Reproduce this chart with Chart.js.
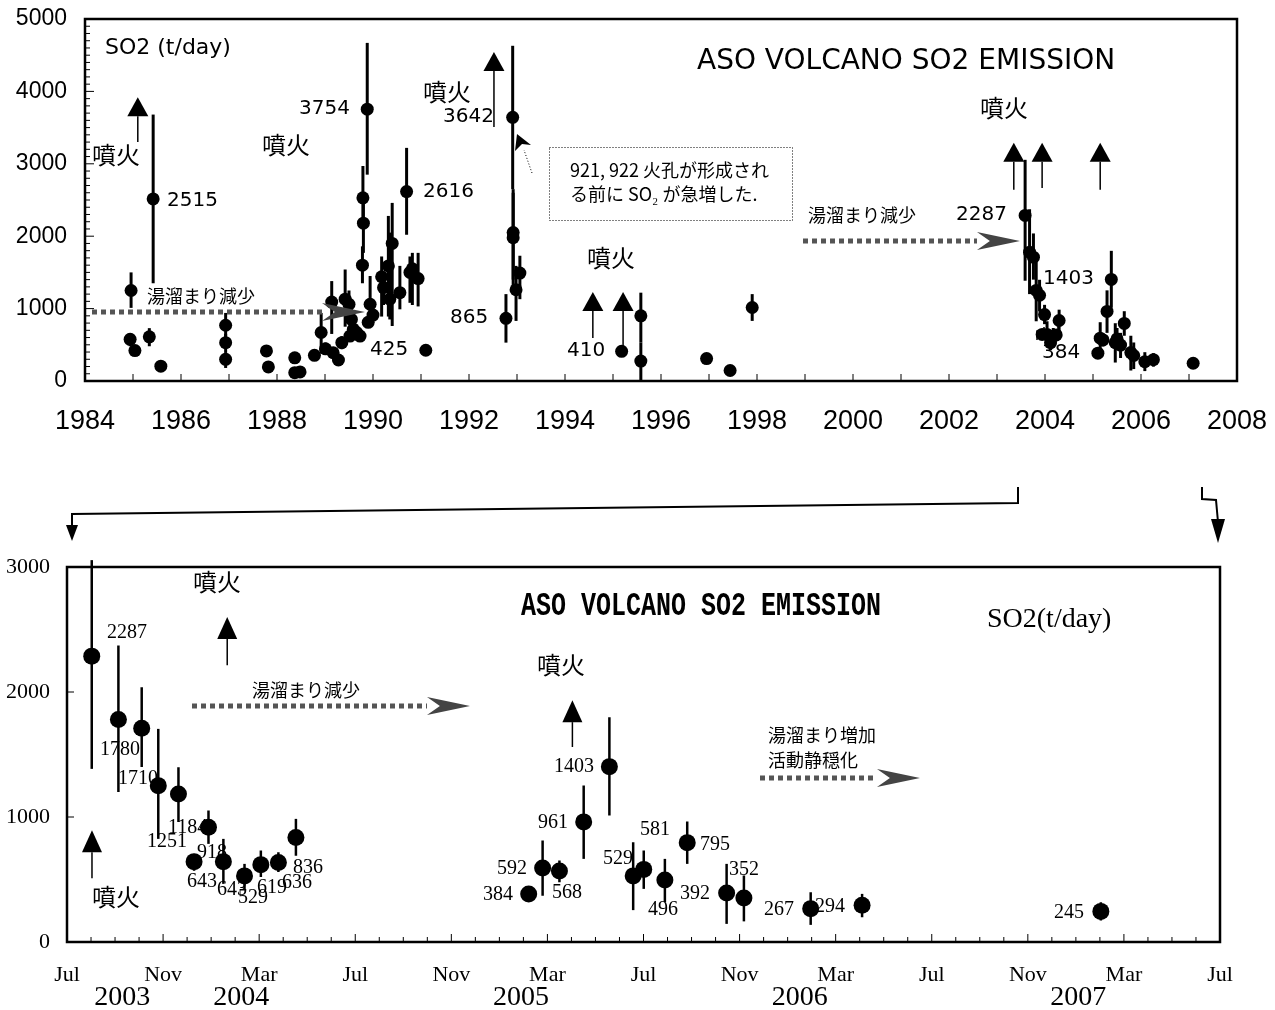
<!DOCTYPE html>
<html>
<head>
<meta charset="utf-8">
<script src="https://cdn.jsdelivr.net/npm/chart.js@4.4.0/dist/chart.umd.min.js"></script>
<style>
  body { margin: 0; background: #fff; }
  #wrap { position: relative; width: 1275px; height: 1010px; }
  #top { position: absolute; left: 0; top: 0; }
  #bot { position: absolute; left: 0; top: 470px; }
</style>
</head>
<body>
<div id="wrap">
  <canvas id="top" width="1275" height="450"></canvas>
  <canvas id="bot" width="1275" height="540"></canvas>
</div>
<script>
// 1984-1998 surveys (decimal year, t/day)
const oldYear = [1984.96, 1984.94, 1985.04, 1985.34, 1985.42, 1985.58, 1986.93, 1986.93, 1986.93, 1987.78,
  1987.82, 1988.37, 1988.37, 1988.48, 1988.78, 1988.92, 1989.01, 1989.14, 1989.17, 1989.28,
  1989.35, 1989.42, 1989.50, 1989.55, 1989.59, 1989.52, 1989.66, 1989.73, 1989.78, 1989.80,
  1989.79, 1989.88, 1989.94, 1990.00, 1989.90, 1990.18, 1990.22, 1990.32, 1990.35, 1990.40,
  1990.56, 1990.70, 1990.77, 1990.82, 1990.94, 1991.10, 1992.77, 1992.91, 1992.92, 1992.92,
  1992.98, 1993.06, 1995.18, 1995.58, 1995.58, 1996.95, 1997.44, 1997.90];
const oldSO2 = [1250, 575, 420, 610, 2515, 205, 770, 530, 300, 415,
  195, 320, 115, 125, 355, 670, 445, 1090, 390, 290,
  530, 1130, 1060, 850, 715, 620, 670, 620, 1600, 2180,
  2530, 3754, 1060, 910, 810, 1440, 1290, 1590, 1130, 1900,
  1220, 2616, 1500, 1550, 1415, 425, 865, 3642, 2050, 1980,
  1260, 1490, 410, 900, 275, 310, 145, 1015];
const oldLow = [1010, 480, 420, 480, 1350, 205, 600, 400, 180, 350,
  195, 250, 115, 125, 290, 380, 370, 650, 390, 290,
  440, 750, 840, 700, 715, 620, 560, 560, 1350, 1770,
  2100, 2850, 850, 840, 760, 890, 1050, 890, 850, 760,
  990, 2020, 1080, 1050, 1030, 425, 530, 2650, 1400, 1300,
  830, 1130, 350, 530, 0, 310, 145, 830];
const oldHigh = [1500, 660, 420, 730, 3680, 205, 940, 650, 400, 470,
  195, 390, 115, 125, 410, 940, 530, 1380, 390, 290,
  620, 1540, 1250, 1050, 715, 620, 780, 700, 1860, 2600,
  2970, 4670, 1450, 980, 860, 1720, 1500, 2280, 2050, 2460,
  1590, 3220, 1720, 1770, 1770, 425, 1200, 4630, 2650, 2600,
  1590, 1730, 480, 1220, 530, 310, 145, 1200];

// 2003-2007 surveys (months after 1 Jul 2003, t/day)
const recentMonth = [1.03, 2.14, 3.11, 3.80, 4.64, 5.29, 5.89, 6.51, 7.39, 8.07, 8.80, 9.53,
  19.22, 19.80, 20.50, 21.51, 22.58, 23.57, 24.01, 24.89, 25.82, 27.46, 28.18, 30.96, 33.10, 43.04];
const recentSO2 = [2287, 1780, 1710, 1251, 1184, 643, 918, 643, 529, 619, 636, 836,
  384, 592, 568, 961, 1403, 529, 581, 496, 795, 392, 352, 267, 294, 245];
const recentLow = [1385, 1200, 1400, 825, 960, 570, 785, 465, 425, 520, 560, 690,
  384, 370, 478, 665, 1012, 255, 425, 318, 625, 145, 165, 137, 198, 172];
const recentHigh = [3055, 2372, 2038, 1705, 1398, 705, 1052, 825, 625, 732, 718, 985,
  384, 812, 652, 1252, 1798, 798, 732, 665, 964, 625, 532, 398, 385, 318];

const yearTicks = [1984, 1986, 1988, 1990, 1992, 1994, 1996, 1998, 2000, 2002, 2004, 2006, 2008];
const monthNames = ['Jul', 'Nov', 'Mar'];
const yearNames = ['2003', '2004', '2005', '2006', '2007'];
const yearNameAt = [2.3, 7.25, 18.9, 30.5, 42.1];

// eruption arrows: [x, bottom value, tip value]
const topEruptions = [[1985.10, 3300, 3920], [1992.52, 3510, 4545], [1994.58, 595, 1230],
  [1995.21, 470, 1230], [2003.35, 2640, 3290], [2003.94, 2665, 3290], [2005.15, 2640, 3290]];
const botEruptions = [[6.67, 2215, 2600], [21.04, 1560, 1935], [1.04, 510, 895]];

// label placement on the page (text only)
const topValueText = [['2515', 167, 201], ['3754', 299, 109], ['2616', 423, 192], ['425', 370, 350],
  ['3642', 443, 117], ['865', 450, 318], ['410', 567, 351], ['2287', 956, 215], ['1403', 1043, 279], ['384', 1042, 353]];
const topKazan = [[92, 155], [262, 145], [423, 92], [587, 258], [980, 108]];
const botValuePos = [[107, 633], [100, 750], [118, 779], [147, 842], [168, 828], [187, 882], [197, 853], [217, 890],
  [238, 898], [257, 888], [282, 883], [293, 868], [483, 895], [497, 869], [552, 893], [538, 823], [554, 767],
  [603, 859], [640, 830], [648, 910], [700, 845], [680, 894], [729, 870], [764, 910], [815, 907], [1054, 913]];

const JP = '"Noto Sans CJK JP"';

function txt(ctx, s, x, y, font, align) {
  ctx.font = font;
  ctx.textAlign = align || 'left';
  ctx.textBaseline = 'middle';
  ctx.fillStyle = '#000';
  ctx.fillText(s, x, y);
}

function line(ctx, x1, y1, x2, y2) {
  ctx.beginPath();
  ctx.moveTo(x1, y1);
  ctx.lineTo(x2, y2);
  ctx.stroke();
}

function stealth(ctx, x1, x2, y, half) {
  ctx.beginPath();
  ctx.moveTo(x2, y);
  ctx.lineTo(x1, y - half);
  ctx.lineTo(x1 + (x2 - x1) * 0.3, y);
  ctx.lineTo(x1, y + half);
  ctx.closePath();
  ctx.fill();
}

function dottedArrow(ctx, xs, xe, xh, y) {
  ctx.save();
  ctx.strokeStyle = '#555';
  ctx.fillStyle = '#444';
  ctx.lineWidth = 5;
  ctx.setLineDash([5, 4]);
  line(ctx, xs, y, xe, y);
  ctx.setLineDash([]);
  stealth(ctx, xe, xh, y, 9);
  ctx.restore();
}

function upArrow(ctx, x, yb, yt, w, h, lw) {
  ctx.save();
  ctx.fillStyle = '#000';
  ctx.strokeStyle = '#000';
  ctx.lineWidth = lw;
  line(ctx, x, yb, x, yt + h);
  ctx.beginPath();
  ctx.moveTo(x, yt);
  ctx.lineTo(x - w / 2, yt + h);
  ctx.lineTo(x + w / 2, yt + h);
  ctx.closePath();
  ctx.fill();
  ctx.restore();
}

// keep tick labels from pushing the plot frame inwards
function noOverflow(s) {
  s.paddingLeft = 0;
  s.paddingRight = 0;
  s.paddingTop = 0;
  s.paddingBottom = 0;
}

const errorBars = {
  id: 'errorBars',
  beforeDatasetsDraw(chart) {
    const ctx = chart.ctx, y = chart.scales.y;
    chart.data.datasets.forEach((ds, i) => {
      const meta = chart.getDatasetMeta(i);
      ctx.save();
      ctx.strokeStyle = '#000';
      ctx.lineWidth = ds.barWidth;
      meta.data.forEach((pt, j) => {
        const d = ds.data[j];
        if (d.hi > d.lo) line(ctx, pt.x, y.getPixelForValue(d.lo), pt.x, y.getPixelForValue(d.hi));
      });
      ctx.restore();
    });
  }
};

const topDeco = {
  id: 'topDeco',
  afterDraw(chart) {
    const { ctx, chartArea: a, scales: { x, y } } = chart;
    ctx.save();
    ctx.strokeStyle = '#000';
    ctx.lineWidth = 2.5;
    ctx.strokeRect(a.left, a.top, a.right - a.left, a.bottom - a.top);
    ctx.lineWidth = 1;
    for (let yr = 1985; yr < 2008; yr++) {
      const px = x.getPixelForValue(yr);
      line(ctx, px, a.bottom, px, a.bottom - 7);
    }
    for (let v = 100; v < 5000; v += 100) {
      const py = y.getPixelForValue(v);
      line(ctx, a.left, py, a.left + (v % 1000 ? 5 : 9), py);
    }

    topEruptions.forEach(e => upArrow(ctx, x.getPixelForValue(e[0]), y.getPixelForValue(e[1]),
      y.getPixelForValue(e[2]), 21, 19, 1.5));

    txt(ctx, 'SO2 (t/day)', 105, 48, '22px "DejaVu Sans"');
    txt(ctx, 'ASO VOLCANO SO2 EMISSION', 697, 62, '28px "DejaVu Sans"');
    topKazan.forEach(p => txt(ctx, '噴火', p[0], p[1], '24px ' + JP));
    topValueText.forEach(p => txt(ctx, p[0], p[1], p[2], '20px "DejaVu Sans"'));

    txt(ctx, '湯溜まり減少', 147, 296, '18px ' + JP);
    dottedArrow(ctx, 92, 322, 365, 312);
    txt(ctx, '湯溜まり減少', 808, 215, '18px ' + JP);
    dottedArrow(ctx, 803, 977, 1020, 241);

    // note box
    ctx.lineWidth = 1;
    ctx.setLineDash([1, 2]);
    ctx.strokeRect(549.5, 147.5, 243, 73);
    line(ctx, 532, 173, 524, 150);
    ctx.setLineDash([]);
    ctx.fillStyle = '#000';
    ctx.beginPath();
    ctx.moveTo(517, 134);
    ctx.lineTo(531, 145);
    ctx.lineTo(522, 144);
    ctx.lineTo(515, 151);
    ctx.closePath();
    ctx.fill();
    txt(ctx, '921, 922 火孔が形成され', 570, 170, '18px ' + JP);
    txt(ctx, 'る前に SO₂ が急増した.', 570, 194, '18px ' + JP);

    // bracket under the 2004 cluster
    ctx.lineWidth = 1.5;
    ctx.beginPath();
    ctx.moveTo(1037, 340);
    ctx.lineTo(1037, 331);
    ctx.lineTo(1058, 331);
    ctx.lineTo(1058, 326);
    ctx.stroke();
    line(ctx, 1044, 331, 1044, 327);
    ctx.restore();
  }
};

const botDeco = {
  id: 'botDeco',
  afterDraw(chart) {
    const { ctx, chartArea: a, scales: { x, y } } = chart;
    const oy = 470;
    ctx.save();
    ctx.strokeStyle = '#000';
    ctx.lineWidth = 2.5;
    ctx.strokeRect(a.left, a.top, a.right - a.left, a.bottom - a.top);
    ctx.lineWidth = 1;
    for (let m = 1; m < 48; m++) {
      const px = x.getPixelForValue(m);
      line(ctx, px, a.bottom, px, a.bottom - (m % 4 ? 5 : 8));
    }
    for (let v = 1000; v <= 3000; v += 1000) {
      const py = y.getPixelForValue(v);
      line(ctx, a.left, py, a.left + 7, py);
    }
    yearNames.forEach((s, i) => txt(ctx, s, x.getPixelForValue(yearNameAt[i]), 998 - oy,
      '28px "Liberation Serif"', 'center'));

    botEruptions.forEach(e => upArrow(ctx, x.getPixelForValue(e[0]), y.getPixelForValue(e[1]),
      y.getPixelForValue(e[2]), 20, 22, 1.5));

    recentSO2.forEach((v, i) => txt(ctx, String(v), botValuePos[i][0], botValuePos[i][1] - oy,
      '20px "Liberation Serif"'));

    txt(ctx, '噴火', 193, 582 - oy, '24px ' + JP);
    txt(ctx, '噴火', 537, 665 - oy, '24px ' + JP);
    txt(ctx, '噴火', 92, 897 - oy, '24px ' + JP);
    txt(ctx, '湯溜まり減少', 252, 690 - oy, '18px ' + JP);
    dottedArrow(ctx, 192, 427, 470, 706 - oy);
    txt(ctx, '湯溜まり増加', 768, 735 - oy, '18px ' + JP);
    txt(ctx, '活動静穏化', 768, 760 - oy, '18px ' + JP);
    dottedArrow(ctx, 760, 877, 920, 778 - oy);

    txt(ctx, 'SO2(t/day)', 987, 620 - oy, '28px "Liberation Serif"');
    ctx.save();
    ctx.translate(521, 607 - oy);
    ctx.scale(1, 1.3);
    txt(ctx, 'ASO VOLCANO SO2 EMISSION', 0, 0, 'bold 25px "Liberation Mono"');
    ctx.restore();

    // connectors from the upper panel
    ctx.lineWidth = 2;
    ctx.beginPath();
    ctx.moveTo(1018, 487 - oy);
    ctx.lineTo(1018, 503 - oy);
    ctx.lineTo(72, 514 - oy);
    ctx.lineTo(72, 528 - oy);
    ctx.stroke();
    ctx.beginPath();
    ctx.moveTo(1202, 487 - oy);
    ctx.lineTo(1202, 499 - oy);
    ctx.lineTo(1216, 500 - oy);
    ctx.lineTo(1218, 522 - oy);
    ctx.stroke();
    ctx.fillStyle = '#000';
    ctx.beginPath();
    ctx.moveTo(66, 525 - oy); ctx.lineTo(78, 525 - oy); ctx.lineTo(72, 541 - oy);
    ctx.closePath(); ctx.fill();
    ctx.beginPath();
    ctx.moveTo(1211, 519 - oy); ctx.lineTo(1225, 519 - oy); ctx.lineTo(1218, 543 - oy);
    ctx.closePath(); ctx.fill();
    ctx.restore();
  }
};

const oldPoints = oldYear.map((yr, i) => ({ x: yr, y: oldSO2[i], lo: oldLow[i], hi: oldHigh[i] }));
const recentOnTop = recentMonth.map((m, i) => ({ x: 2003.5 + m / 12, y: recentSO2[i], lo: recentLow[i], hi: recentHigh[i] }));
const recentPoints = recentMonth.map((m, i) => ({ x: m, y: recentSO2[i], lo: recentLow[i], hi: recentHigh[i] }));

const noGrid = { display: false, drawTicks: false };

new Chart(document.getElementById('top'), {
  type: 'scatter',
  data: {
    datasets: [
      { data: oldPoints, backgroundColor: '#000', borderWidth: 0, pointRadius: 6.5, barWidth: 3, clip: false },
      { data: recentOnTop, backgroundColor: '#000', borderWidth: 0, pointRadius: 6.5, barWidth: 3, clip: false }
    ]
  },
  options: {
    responsive: false,
    animation: false,
    layout: { padding: { top: 19, right: 38, left: 0, bottom: 0 } },
    plugins: { legend: { display: false }, tooltip: { enabled: false } },
    scales: {
      x: {
        type: 'linear', min: 1984, max: 2008,
        grid: noGrid, border: { display: false },
        afterBuildTicks: s => { s.ticks = yearTicks.map(v => ({ value: v })); },
        afterFit: s => { s.height = 69; noOverflow(s); },
        ticks: { callback: v => String(v), padding: 24, maxRotation: 0, autoSkip: false,
          color: '#000', font: { family: 'Liberation Sans', size: 27 } }
      },
      y: {
        min: 0, max: 5000,
        grid: noGrid, border: { display: false },
        afterFit: s => { s.width = 85; noOverflow(s); },
        ticks: { stepSize: 1000, callback: v => String(v), padding: 18,
          color: '#000', font: { family: 'Liberation Sans', size: 23 } }
      }
    }
  },
  plugins: [errorBars, topDeco]
});

new Chart(document.getElementById('bot'), {
  type: 'scatter',
  data: {
    datasets: [
      { data: recentPoints, backgroundColor: '#000', borderWidth: 0, pointRadius: 8.5, barWidth: 2.5, clip: false }
    ]
  },
  options: {
    responsive: false,
    animation: false,
    layout: { padding: { top: 97, right: 55, left: 0, bottom: 0 } },
    plugins: { legend: { display: false }, tooltip: { enabled: false } },
    scales: {
      x: {
        type: 'linear', min: 0, max: 48,
        grid: noGrid, border: { display: false },
        afterFit: s => { s.height = 68; noOverflow(s); },
        ticks: { stepSize: 4, autoSkip: false, maxRotation: 0, padding: 20,
          callback: v => monthNames[(v / 4) % 3],
          color: '#000', font: { family: 'Liberation Serif', size: 22 } }
      },
      y: {
        min: 0, max: 3000,
        grid: noGrid, border: { display: false },
        afterFit: s => { s.width = 67; noOverflow(s); },
        ticks: { stepSize: 1000, callback: v => String(v), padding: 17,
          color: '#000', font: { family: 'Liberation Serif', size: 22 } }
      }
    }
  },
  plugins: [errorBars, botDeco]
});
</script>
</body>
</html>
